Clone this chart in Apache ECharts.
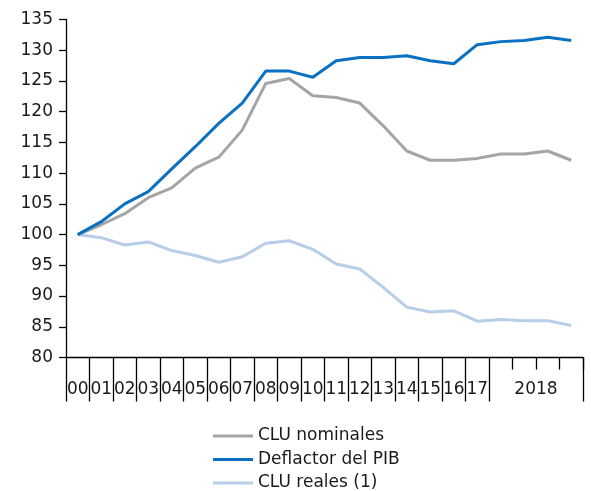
<!DOCTYPE html>
<html>
<head>
<meta charset="utf-8">
<script src="https://cdn.jsdelivr.net/npm/echarts@6/dist/echarts.min.js"></script>
<style>html,body{margin:0;padding:0;background:#fff}#c{width:591px;height:491px}</style>
</head>
<body>
<div id="c"></div>
<script>
const categories = ['00','01','02','03','04','05','06','07','08','09','10','11','12','13','14','15','16','17','2018-I','2018-II','2018-III','2018-IV'];
const cluNominales = [100,101.6,103.4,106.0,107.6,110.8,112.6,117.0,124.6,125.4,122.6,122.3,121.4,117.7,113.6,112.1,112.1,112.4,113.1,113.1,113.6,112.1];
const deflactorPIB = [100,102.1,105.0,107.0,110.7,114.3,118.1,121.4,126.6,126.6,125.6,128.3,128.8,128.8,129.1,128.3,127.8,130.9,131.4,131.6,132.1,131.6];
const cluReales = [100,99.5,98.3,98.8,97.4,96.6,95.5,96.4,98.6,99.0,97.6,95.2,94.4,91.4,88.2,87.4,87.6,85.9,86.2,86.0,86.0,85.2];
const yTicks = {min: 80, max: 135, interval: 5};

const FONT = 'DejaVu Sans';
const TXT = '#1a1a1a';
const chart = echarts.init(document.getElementById('c'));
chart.setOption({
  animation: false,
  grid: {left: 66, right: 8, top: 19.5, bottom: 133.5, containLabel: false},
  legend: {
    orient: 'vertical', left: 213, top: 426, height: 67, padding: 0,
    icon: 'rect', itemWidth: 40, itemHeight: 3, itemGap: 3.5,
    data: ['CLU nominales', 'Deflactor del PIB', 'CLU reales (1)'],
    textStyle: {fontFamily: FONT, fontSize: 17, color: TXT, lineHeight: 20}
  },
  xAxis: [{
    type: 'category', data: categories, boundaryGap: true,
    axisLine: {show: true, lineStyle: {color: '#000', width: 1.3}},
    axisTick: {show: true, length: 44, interval: (i) => i <= 18, lineStyle: {color: '#000', width: 1.3}},
    axisLabel: {
      interval: 0, margin: 24, fontFamily: FONT, fontSize: 17, color: TXT,
      formatter: (v, i) => i < 18 ? v : (i === 19 ? '{y|2018}' : ''),
      rich: {y: {fontFamily: FONT, fontSize: 17, color: TXT, padding: [0, 0, 0, 23.5]}}
    },
    splitLine: {show: false}
  }, {
    type: 'category', data: categories, boundaryGap: true, position: 'bottom',
    axisLine: {show: false},
    axisTick: {show: true, length: 12, interval: (i) => i >= 19, lineStyle: {color: '#000', width: 1.3}},
    axisLabel: {show: false},
    splitLine: {show: false}
  }],
  yAxis: {
    type: 'value', min: yTicks.min, max: yTicks.max, interval: yTicks.interval,
    axisLine: {show: true, lineStyle: {color: '#000', width: 1.3}},
    axisTick: {show: true, length: 7, lineStyle: {color: '#000', width: 1.3}},
    axisLabel: {margin: 13, fontFamily: FONT, fontSize: 17, color: TXT},
    splitLine: {show: false}
  },
  series: [
    {name: 'CLU reales (1)', type: 'line', data: cluReales, symbol: 'none', z: 2,
     lineStyle: {color: '#B7CDE8', width: 3}, itemStyle: {color: '#B7CDE8'}},
    {name: 'CLU nominales', type: 'line', data: cluNominales, symbol: 'none', z: 3,
     lineStyle: {color: '#A5A5A5', width: 3}, itemStyle: {color: '#A5A5A5'}},
    {name: 'Deflactor del PIB', type: 'line', data: deflactorPIB, symbol: 'none', z: 4,
     lineStyle: {color: '#0A70C2', width: 3}, itemStyle: {color: '#0A70C2'}}
  ]
});
</script>
</body>
</html>
